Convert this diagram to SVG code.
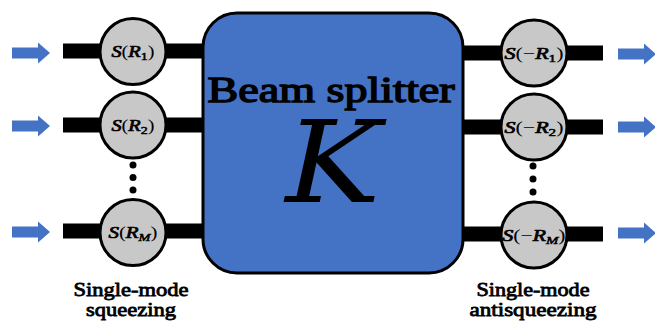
<svg xmlns="http://www.w3.org/2000/svg" width="655" height="322" viewBox="0 0 655 322">
  <style>
    .bar { fill: #000; }
    .arrow { fill: #4472C4; }
    .mode { fill: #C8C8C8; stroke: #000; stroke-width: 3; }
    .dot { fill: #000; }
    .op { font-family: "Liberation Serif", "DejaVu Serif", serif; font-size: 16px; fill: #000; text-anchor: middle; }
    .op .v { font-style: italic; stroke: #000; stroke-width: 0.7; }
    .op .sub { font-size: 11px; stroke: #000; stroke-width: 0.5; }
    .cap { font-family: "Liberation Serif", "DejaVu Serif", serif; font-size: 19px; fill: #000; stroke: #000; stroke-width: 0.8; text-anchor: middle; }
    .title { font-family: "Liberation Serif", "DejaVu Serif", serif; font-size: 36px; fill: #000; stroke: #000; stroke-width: 1.4; text-anchor: middle; }
    .sym { font-family: "DejaVu Serif", "Liberation Serif", serif; font-style: italic; font-size: 114px; fill: #000; text-anchor: middle; }
  </style>
  <defs>
    <path id="arr" class="arrow" d="M0,-5.5 H26 V-10.5 L38,0 L26,10.5 V5.5 H0 Z"/>
  </defs>

  <!-- waveguide lines and input/output arrows -->
  <g id="connectors">
    <rect class="bar" x="63" y="43.5" width="142" height="15"/>
    <rect class="bar" x="63" y="117.5" width="142" height="15"/>
    <rect class="bar" x="63" y="223.5" width="142" height="15"/>
    <rect class="bar" x="461" y="45.5" width="142" height="15"/>
    <rect class="bar" x="461" y="119.5" width="142" height="15"/>
    <rect class="bar" x="461" y="226.5" width="142" height="15"/>
    <use href="#arr" x="12" y="53"/>
    <use href="#arr" x="12" y="126"/>
    <use href="#arr" x="12" y="232"/>
    <use href="#arr" x="618" y="54"/>
    <use href="#arr" x="618" y="127"/>
    <use href="#arr" x="618" y="233"/>
  </g>

  <!-- beam splitter -->
  <g id="beam-splitter">
    <rect x="203" y="13" width="260" height="260" rx="34" fill="#4472C4" stroke="#000" stroke-width="3"/>
    <text class="title" x="331" y="102" textLength="247" lengthAdjust="spacingAndGlyphs">Beam splitter</text>
    <text class="sym" x="333" y="202" textLength="95" lengthAdjust="spacingAndGlyphs">K</text>
  </g>

  <!-- squeezers -->
  <g id="squeeze-1">
    <circle class="mode" cx="133" cy="51.5" r="33"/>
    <text class="op" x="133" y="57" textLength="43" lengthAdjust="spacingAndGlyphs"><tspan class="v">S</tspan>(<tspan class="v">R</tspan><tspan class="sub" dy="3">1</tspan><tspan dy="-3">)</tspan></text>
  </g>
  <g id="squeeze-2">
    <circle class="mode" cx="133" cy="125" r="33"/>
    <text class="op" x="133" y="130.5" textLength="43" lengthAdjust="spacingAndGlyphs"><tspan class="v">S</tspan>(<tspan class="v">R</tspan><tspan class="sub" dy="3">2</tspan><tspan dy="-3">)</tspan></text>
  </g>
  <g id="squeeze-dots">
    <circle class="dot" cx="133" cy="165" r="3.5"/>
    <circle class="dot" cx="133" cy="177.5" r="3.5"/>
    <circle class="dot" cx="133" cy="190" r="3.5"/>
  </g>
  <g id="squeeze-M">
    <circle class="mode" cx="133" cy="232.5" r="33"/>
    <text class="op" x="133" y="238" textLength="49" lengthAdjust="spacingAndGlyphs"><tspan class="v">S</tspan>(<tspan class="v">R</tspan><tspan class="sub" dy="3" font-style="italic">M</tspan><tspan dy="-3">)</tspan></text>
  </g>

  <!-- antisqueezers -->
  <g id="antisqueeze-1">
    <circle class="mode" cx="534" cy="53" r="33"/>
    <text class="op" x="534" y="58.5" textLength="59" lengthAdjust="spacingAndGlyphs"><tspan class="v">S</tspan>(−<tspan class="v">R</tspan><tspan class="sub" dy="3">1</tspan><tspan dy="-3">)</tspan></text>
  </g>
  <g id="antisqueeze-2">
    <circle class="mode" cx="534" cy="127" r="33"/>
    <text class="op" x="534" y="132.5" textLength="59" lengthAdjust="spacingAndGlyphs"><tspan class="v">S</tspan>(−<tspan class="v">R</tspan><tspan class="sub" dy="3">2</tspan><tspan dy="-3">)</tspan></text>
  </g>
  <g id="antisqueeze-dots">
    <circle class="dot" cx="533" cy="166" r="3.5"/>
    <circle class="dot" cx="533" cy="179" r="3.5"/>
    <circle class="dot" cx="533" cy="192" r="3.5"/>
  </g>
  <g id="antisqueeze-M">
    <circle class="mode" cx="534" cy="235" r="33"/>
    <text class="op" x="534" y="240.5" textLength="63" lengthAdjust="spacingAndGlyphs"><tspan class="v">S</tspan>(−<tspan class="v">R</tspan><tspan class="sub" dy="3" font-style="italic">M</tspan><tspan dy="-3">)</tspan></text>
  </g>

  <!-- captions -->
  <g id="caption-left">
    <text class="cap" x="131" y="296" textLength="115" lengthAdjust="spacingAndGlyphs">Single-mode</text>
    <text class="cap" x="131" y="316" textLength="90" lengthAdjust="spacingAndGlyphs">squeezing</text>
  </g>
  <g id="caption-right">
    <text class="cap" x="533" y="296" textLength="113" lengthAdjust="spacingAndGlyphs">Single-mode</text>
    <text class="cap" x="533" y="316" textLength="127" lengthAdjust="spacingAndGlyphs">antisqueezing</text>
  </g>
</svg>
